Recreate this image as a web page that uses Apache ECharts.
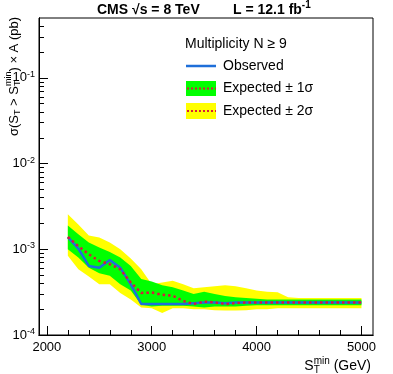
<!DOCTYPE html>
<html>
<head>
<meta charset="utf-8">
<script src="https://cdn.jsdelivr.net/npm/echarts@6/dist/echarts.min.js"></script>
<style>
html, body { margin: 0; padding: 0; background: #fff; }
#chart { width: 393px; height: 374px; }
</style>
</head>
<body>
<div id="chart"></div>
<script>
// S_T^min scan points (GeV)
const stMin = [2200, 2300, 2400, 2500, 2600, 2700, 2800, 2900, 3000, 3100, 3200, 3300, 3400, 3500, 3600,
  3700, 3800, 3900, 4000, 4100, 4200, 4300, 4400, 4500, 4600, 4700, 4800, 4900, 5000];

const observed = [1.39e-3, 1.02e-3, 6.4e-4, 6.1e-4, 7.5e-4, 6.1e-4, 3.9e-4, 2.3e-4, 2.3e-4, 2.3e-4, 2.3e-4, 2.3e-4, 2.35e-4, 2.4e-4, 2.4e-4,
  2.35e-4, 2.4e-4, 2.4e-4, 2.4e-4, 2.4e-4, 2.4e-4, 2.4e-4, 2.4e-4, 2.4e-4, 2.4e-4, 2.4e-4, 2.4e-4, 2.4e-4, 2.4e-4];
const expected = [1.39e-3, 1.09e-3, 8.75e-4, 7.3e-4, 6.7e-4, 5.85e-4, 4.1e-4, 3.1e-4, 3.13e-4, 2.95e-4, 2.87e-4, 2.5e-4, 2.3e-4, 2.45e-4, 2.4e-4,
  2.3e-4, 2.35e-4, 2.4e-4, 2.4e-4, 2.4e-4, 2.4e-4, 2.4e-4, 2.4e-4, 2.4e-4, 2.4e-4, 2.4e-4, 2.4e-4, 2.4e-4, 2.4e-4];
const up2 = [2.57e-3, 1.95e-3, 1.45e-3, 1.37e-3, 1.2e-3, 1.0e-3, 7.8e-4, 5.85e-4, 3.9e-4, 4.1e-4, 4.3e-4, 3.9e-4, 3.5e-4, 3.6e-4, 3.7e-4,
  3.8e-4, 3.7e-4, 3.5e-4, 3.3e-4, 3.2e-4, 3.15e-4, 2.75e-4, 2.7e-4, 2.7e-4, 2.7e-4, 2.7e-4, 2.7e-4, 2.7e-4, 2.7e-4];
const up1 = [1.9e-3, 1.5e-3, 1.2e-3, 1.05e-3, 9.3e-4, 8.0e-4, 6.4e-4, 4.5e-4, 4.2e-4, 3.8e-4, 3.6e-4, 3.3e-4, 3.0e-4, 3.2e-4, 3.0e-4,
  2.85e-4, 2.75e-4, 2.7e-4, 2.65e-4, 2.6e-4, 2.6e-4, 2.6e-4, 2.6e-4, 2.6e-4, 2.6e-4, 2.6e-4, 2.6e-4, 2.6e-4, 2.6e-4];
const lo1 = [1.0e-3, 8.0e-4, 6.1e-4, 5.25e-4, 4.9e-4, 3.9e-4, 3.3e-4, 2.25e-4, 2.15e-4, 2.2e-4, 2.2e-4, 2.2e-4, 2.15e-4, 2.1e-4, 2.15e-4,
  2.15e-4, 2.15e-4, 2.2e-4, 2.23e-4, 2.23e-4, 2.23e-4, 2.23e-4, 2.23e-4, 2.23e-4, 2.23e-4, 2.23e-4, 2.23e-4, 2.23e-4, 2.23e-4];
const lo2 = [8.4e-4, 5.85e-4, 4.8e-4, 3.9e-4, 3.9e-4, 3.1e-4, 2.6e-4, 2.1e-4, 2.05e-4, 1.8e-4, 2.05e-4, 2.05e-4, 2.0e-4, 2.0e-4, 1.95e-4,
  1.93e-4, 1.93e-4, 1.95e-4, 2.0e-4, 2.0e-4, 2.05e-4, 2.05e-4, 2.05e-4, 2.05e-4, 2.05e-4, 2.05e-4, 2.05e-4, 2.05e-4, 2.05e-4];

// axis ticks
const xMajor = [2000, 3000, 4000, 5000];
const xMinor = [2200, 2400, 2600, 2800, 3200, 3400, 3600, 3800, 4200, 4400, 4600, 4800];
const yMajor = [1e-4, 1e-3, 1e-2, 1e-1];
const yMinor = [2e-4, 3e-4, 4e-4, 5e-4, 6e-4, 7e-4, 8e-4, 9e-4,
  2e-3, 3e-3, 4e-3, 5e-3, 6e-3, 7e-3, 8e-3, 9e-3,
  2e-2, 3e-2, 4e-2, 5e-2, 6e-2, 7e-2, 8e-2, 9e-2,
  2e-1, 3e-1, 4e-1];

const FONT = '"Liberation Sans", Arial, Helvetica, sans-serif';
const GREEN = '#00ff00', YELLOW = '#ffff00', BLUE = '#1e6fd9', RED = '#d81b3c';

function pairs(ys) { return stMin.map((x, i) => [x, ys[i]]); }

// text with sub/superscripts; pieces: [text, size, dy, noAdvance]
const measureCtx = document.createElement('canvas').getContext('2d');
function mathText(pieces, bold) {
    let cx = 0;
    const kids = [];
    pieces.forEach(p => {
        const font = (bold ? 'bold ' : '') + p[1] + 'px ' + FONT;
        measureCtx.font = font;
        kids.push({
            type: 'text', x: cx, y: p[2],
            style: { text: p[0], font: font, fill: '#000', textVerticalAlign: 'middle' }
        });
        if (!p[3]) cx += measureCtx.measureText(p[0]).width;
    });
    return { kids: kids, width: cx };
}

// band between hi and lo drawn as one polygon
function bandSeries(hi, lo, color, z) {
    return {
        type: 'custom', z: z, silent: true,
        data: stMin.map((x, i) => [x, hi[i], lo[i]]),
        encode: { x: 0, y: [1, 2] },
        renderItem: function (params, api) {
            if (params.dataIndex !== 0) return null;
            const pts = [];
            for (let i = 0; i < stMin.length; i++) pts.push(api.coord([stMin[i], hi[i]]));
            for (let i = stMin.length - 1; i >= 0; i--) pts.push(api.coord([stMin[i], lo[i]]));
            return { type: 'polygon', shape: { points: pts }, style: { fill: color } };
        }
    };
}

const xTitle = mathText([['S', 14, 0], ['T', 10, 4, true], ['min', 10, -5], [' (GeV)', 14, 0]]);
const yTitle = mathText([['σ(S', 13, 0], ['T', 9, 4], [' > S', 13, 0], ['T', 9, 4, true], ['min', 9, -5], [') × A (pb)', 13, 0]]);
const head1 = mathText([['CMS \u221As = 8 TeV', 14, 0]], true);
const head2 = mathText([['L = 12.1 fb', 14, 0], ['-1', 10, -5]], true);

const baseY = {
    type: 'log', logBase: 10, min: 1e-4, max: 0.5, z: 10,
    axisLine: { show: true, lineStyle: { color: '#000', width: 1 } },
    splitLine: { show: false }
};
const baseX = {
    type: 'value', min: 1925, max: 5110, z: 10,
    axisLine: { show: true, onZero: false, lineStyle: { color: '#000', width: 1 } },
    splitLine: { show: false }
};

const chart = echarts.init(document.getElementById('chart'));
chart.setOption({
    animation: false,
    backgroundColor: '#fff',
    grid: { left: 39, top: 18, width: 334, height: 317, show: true, borderColor: '#000', borderWidth: 1, backgroundColor: 'transparent' },
    xAxis: [
        Object.assign({}, baseX, {
            axisTick: { inside: true, length: 9, customValues: xMajor, lineStyle: { color: '#000' } },
            axisLabel: { customValues: xMajor, margin: 6, fontSize: 13, fontFamily: FONT, color: '#000', formatter: v => String(v) }
        }),
        Object.assign({}, baseX, {
            position: 'bottom',
            axisTick: { inside: true, length: 5, customValues: xMinor, lineStyle: { color: '#000' } },
            axisLabel: { show: false }
        })
    ],
    yAxis: [
        Object.assign({}, baseY, {
            axisTick: { inside: true, length: 9, customValues: yMajor, lineStyle: { color: '#000' } },
            axisLabel: {
                customValues: yMajor, margin: 4, color: '#000',
                formatter: v => '{b|10}{s|' + Math.round(Math.log10(v)) + '}',
                rich: {
                    b: { fontSize: 13, fontFamily: FONT, color: '#000' },
                    s: { fontSize: 9, fontFamily: FONT, color: '#000', verticalAlign: 'bottom', padding: [0, 0, 7, 0] }
                }
            }
        }),
        Object.assign({}, baseY, {
            position: 'left',
            axisTick: { inside: true, length: 5, customValues: yMinor, lineStyle: { color: '#000' } },
            axisLabel: { show: false }
        })
    ],
    series: [
        bandSeries(up2, lo2, YELLOW, 1),
        bandSeries(up1, lo1, GREEN, 2),
        {
            name: 'Observed', type: 'line', data: pairs(observed), symbol: 'none', z: 5,
            lineStyle: { color: BLUE, width: 2.5 }
        },
        {
            name: 'Expected', type: 'line', data: pairs(expected), symbol: 'none', z: 6,
            lineStyle: { color: RED, width: 2.5, type: [2.5, 3] }
        }
    ],
    graphic: [
        // header
        { type: 'group', x: 97, y: 10, children: head1.kids },
        { type: 'group', x: 233, y: 10, children: head2.kids },
        // axis titles
        { type: 'group', x: 371 - xTitle.width, y: 366, children: xTitle.kids },
        { type: 'group', x: 14, y: 17 + yTitle.width, rotation: Math.PI / 2, children: yTitle.kids },
        // legend
        { type: 'text', x: 185, y: 44, style: { text: 'Multiplicity N \u2265 9', font: '14px ' + FONT, fill: '#000', textVerticalAlign: 'middle' } },
        { type: 'line', shape: { x1: 186, y1: 66, x2: 216, y2: 66 }, style: { stroke: BLUE, lineWidth: 2.5 } },
        { type: 'text', x: 223, y: 66, style: { text: 'Observed', font: '14px ' + FONT, fill: '#000', textVerticalAlign: 'middle' } },
        { type: 'rect', shape: { x: 186, y: 81, width: 30, height: 15 }, style: { fill: GREEN } },
        { type: 'line', shape: { x1: 187, y1: 88.5, x2: 216, y2: 88.5 }, style: { stroke: RED, lineWidth: 2, lineDash: [2, 2] } },
        { type: 'text', x: 223, y: 88, style: { text: 'Expected \u00b1 1\u03c3', font: '14px ' + FONT, fill: '#000', textVerticalAlign: 'middle' } },
        { type: 'rect', shape: { x: 186, y: 103, width: 30, height: 16 }, style: { fill: YELLOW } },
        { type: 'line', shape: { x1: 187, y1: 111, x2: 216, y2: 111 }, style: { stroke: RED, lineWidth: 2, lineDash: [2, 2] } },
        { type: 'text', x: 223, y: 111, style: { text: 'Expected \u00b1 2\u03c3', font: '14px ' + FONT, fill: '#000', textVerticalAlign: 'middle' } }
    ]
});
window.addEventListener('resize', function () {
    chart.resize();
});
</script>
</body>
</html>
